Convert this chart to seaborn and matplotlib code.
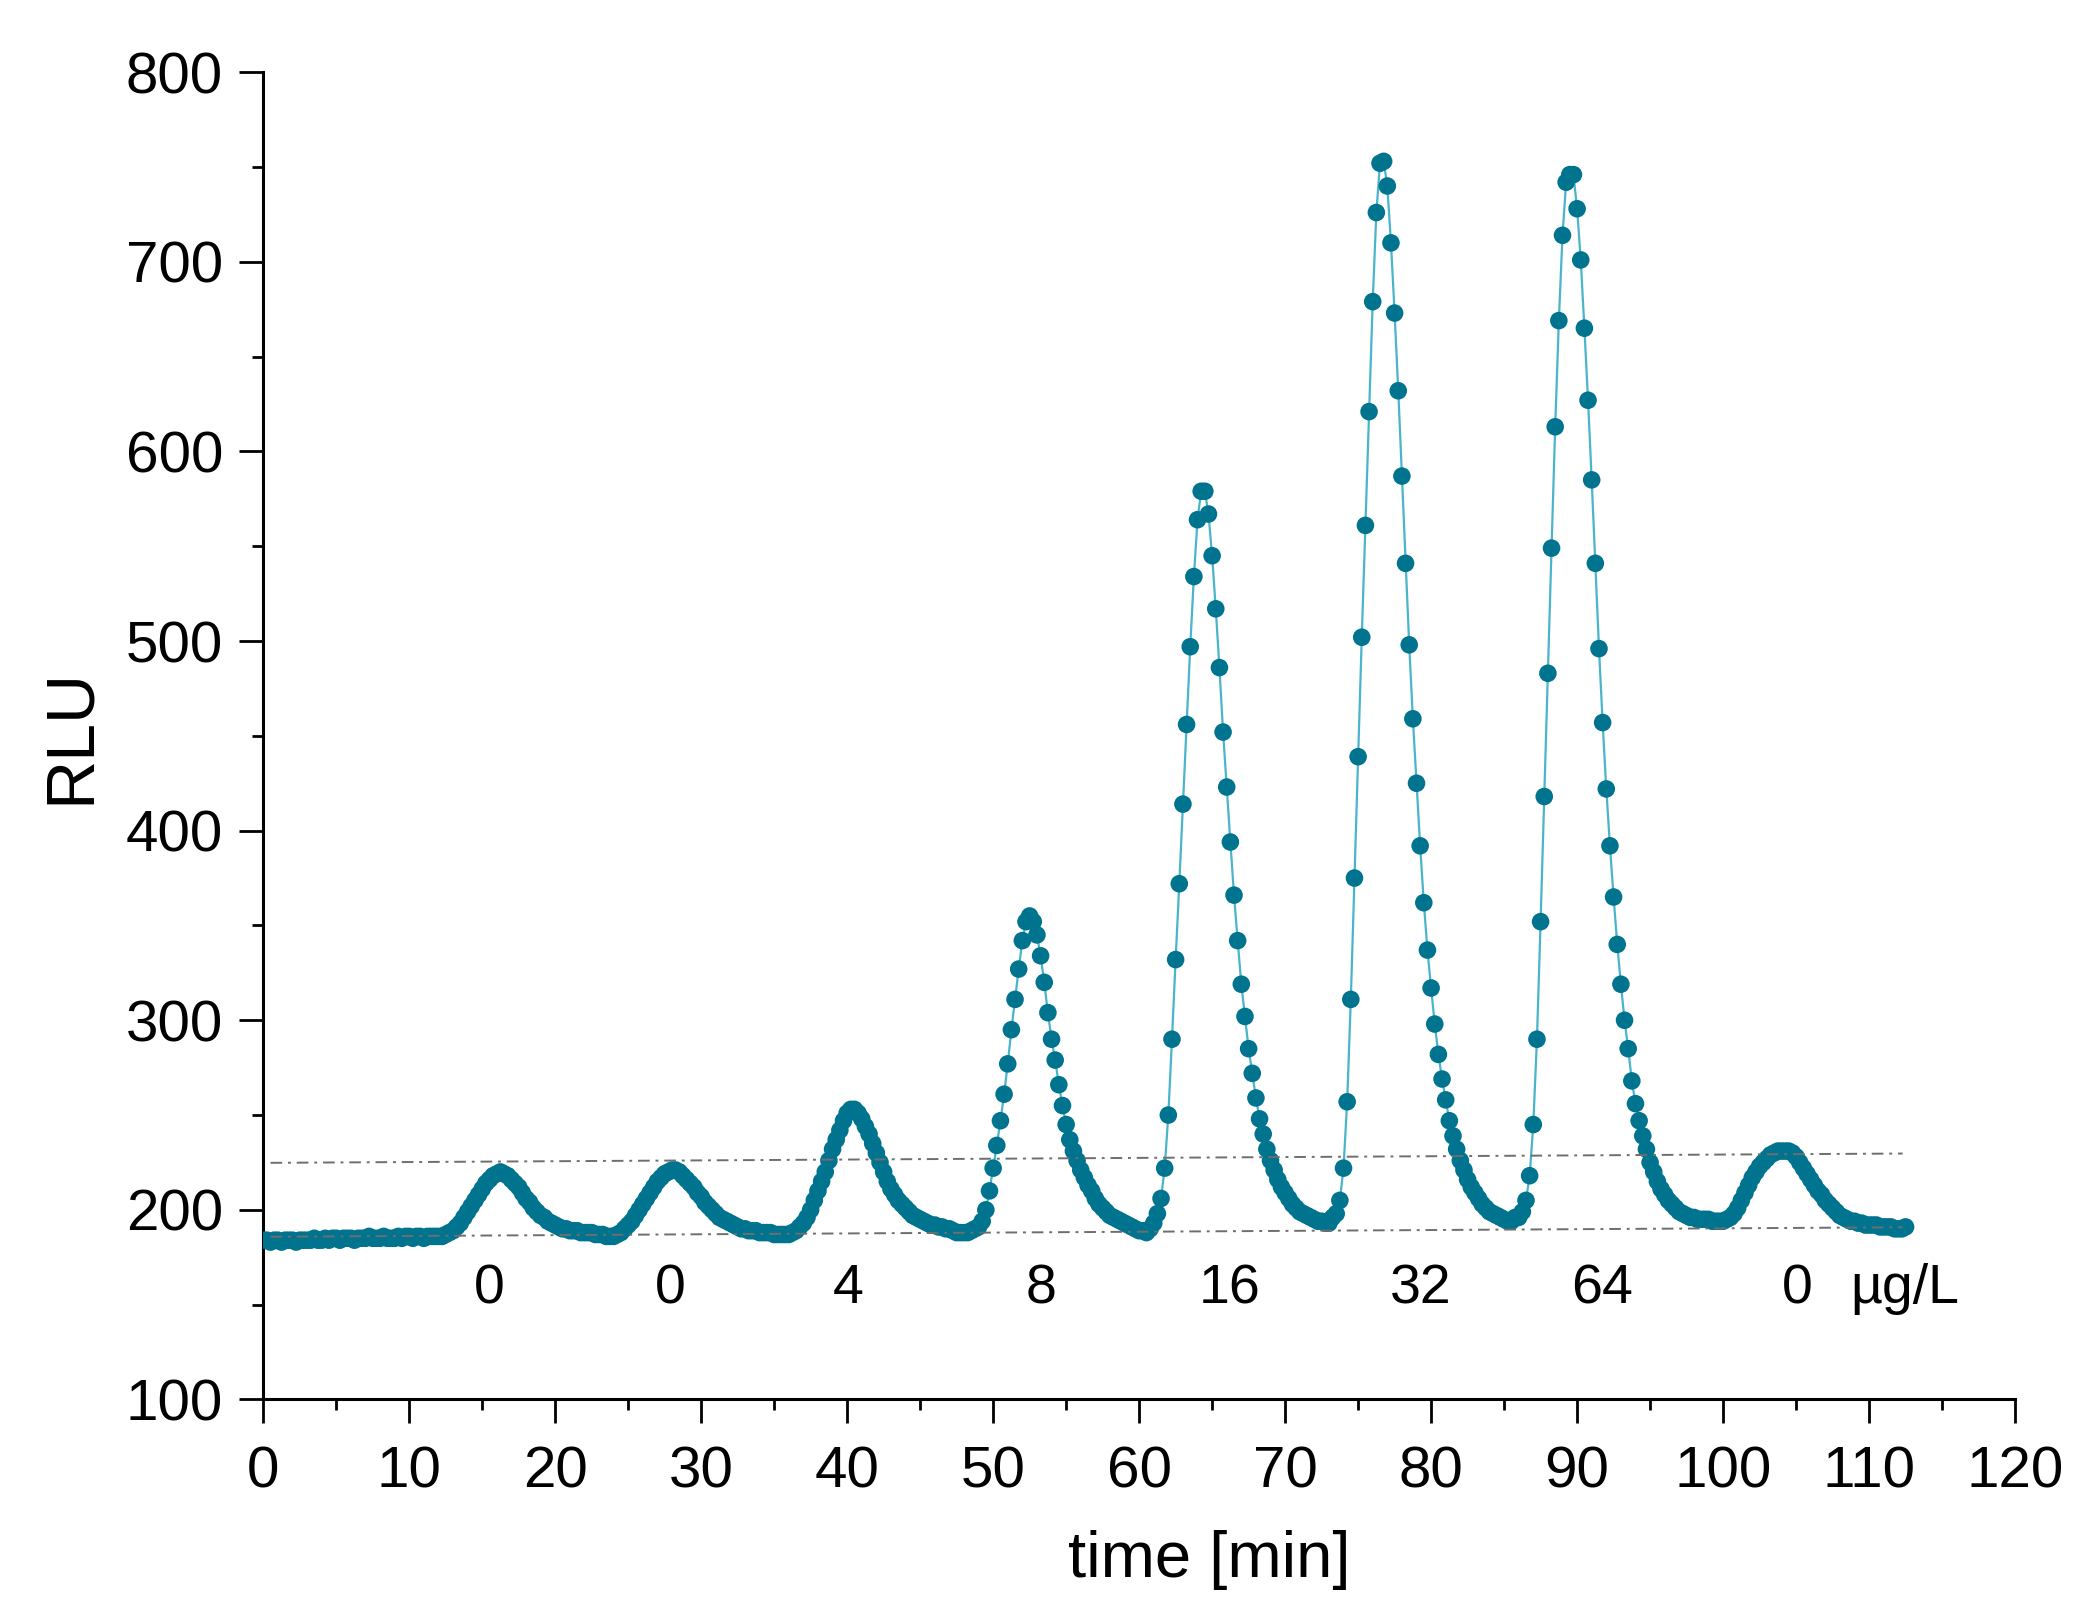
import numpy as np
import pandas as pd
import matplotlib.pyplot as plt
import seaborn as sns

# sampling interval of the luminometer [min]
step = 0.25

# RLU readings, one list per stretch of the run, with its start time [min]
base_start = 0.0
rlu_base = [184, 184, 183, 184, 184, 183, 184, 184, 184, 183, 184, 184,
            184, 184, 185, 184, 184, 185, 184, 185, 185, 184, 185, 185,
            185, 184, 185, 185, 185, 186, 185, 185, 185, 186, 185, 185,
            185, 186, 185, 186, 186, 185, 186, 186, 185, 186, 186, 186,
            186, 186, 187, 188]

p1_start = 13.0
rlu_p1 = [189, 191, 193, 196, 199, 202, 205, 208, 211, 214, 216, 218,
          219, 220, 219, 218, 216, 214, 212, 209, 206, 204, 201, 199,
          197, 196, 194, 193, 192, 191, 190, 190, 189, 189, 189, 188,
          188, 188, 188, 187, 187, 187, 186, 186, 186, 187, 188, 190]

p2_start = 25.0
rlu_p2 = [192, 194, 197, 200, 203, 206, 209, 212, 215, 217, 219, 220,
          221, 221, 220, 218, 216, 214, 212, 209, 207, 204, 202, 200,
          198, 196, 195, 194, 193, 192, 191, 190, 190, 189, 189, 189,
          188, 188, 188, 188, 187, 187, 187, 187, 187, 188, 189, 191]

p3_start = 37.0
rlu_p3 = [193, 196, 200, 205, 210, 215, 220, 226, 232, 237, 242, 247,
          251, 253, 253, 251, 248, 244, 240, 235, 230, 225, 220, 215,
          211, 208, 205, 203, 201, 199, 197, 196, 195, 194, 193, 192,
          192, 191, 191, 190, 190, 189, 188, 188, 188, 188, 189, 190]

p4_start = 49.0
rlu_p4 = [191, 194, 200, 210, 222, 234, 247, 261, 277, 295, 311, 327,
          342, 352, 355, 352, 345, 334, 320, 304, 290, 279, 266, 255,
          245, 237, 231, 226, 221, 217, 213, 210, 206, 203, 201, 199,
          197, 196, 195, 194, 193, 192, 191, 190, 189, 189, 188, 190]

p5_start = 61.0
rlu_p5 = [193, 198, 206, 222, 250, 290, 332, 372, 414, 456, 497, 534,
          564, 579, 579, 567, 545, 517, 486, 452, 423, 394, 366, 342,
          319, 302, 285, 272, 259, 248, 240, 232, 226, 221, 216, 212,
          209, 206, 203, 201, 199, 198, 197, 196, 195, 194, 194, 193,
          193, 196]

p6_start = 73.5
rlu_p6 = [198, 205, 222, 257, 311, 375, 439, 502, 561, 621, 679, 726,
          752, 753, 740, 710, 673, 632, 587, 541, 498, 459, 425, 392,
          362, 337, 317, 298, 282, 269, 258, 247, 239, 232, 226, 221,
          216, 212, 209, 206, 203, 201, 199, 198, 197, 196, 195, 194,
          194, 196]

p7_start = 86.0
rlu_p7 = [196, 199, 205, 218, 245, 290, 352, 418, 483, 549, 613, 669,
          714, 742, 746, 746, 728, 701, 665, 627, 585, 541, 496, 457,
          422, 392, 365, 340, 319, 300, 285, 268, 256, 247, 239, 232,
          225, 220, 215, 211, 208, 205, 203, 201, 199, 198, 197, 196,
          196, 195, 195, 195, 195, 194, 194, 194]

p8_start = 100.0
rlu_p8 = [194, 195, 196, 198, 201, 205, 209, 213, 217, 220, 223, 225,
          227, 229, 230, 231, 231, 231, 231, 230, 228, 225, 222, 219,
          216, 213, 210, 208, 205, 203, 201, 199, 197, 196, 195, 194,
          194, 193, 193, 192, 192, 192, 192, 191, 191, 191, 191, 190,
          190, 190, 191]

# guide lines (dash-dot), start/end points
guide_t = [0.5, 112.3]
upper_rlu = [224.8, 229.7]
lower_rlu = [185.8, 190.8]

# concentration labels under the peaks
conc_labels = ['0', '0', '4', '8', '16', '32', '64', '0']
conc_t = [15.5, 27.85, 40.05, 53.3, 66.2, 79.3, 91.7, 105.1]
label_rlu = 158

segments = [(base_start, rlu_base), (p1_start, rlu_p1), (p2_start, rlu_p2),
            (p3_start, rlu_p3), (p4_start, rlu_p4), (p5_start, rlu_p5),
            (p6_start, rlu_p6), (p7_start, rlu_p7), (p8_start, rlu_p8)]
frames = []
for start, vals in segments:
    t = start + step * np.arange(len(vals))
    frames.append(pd.DataFrame({'time': t, 'RLU': vals}))
df = pd.concat(frames, ignore_index=True)

sns.set_style('ticks')
plt.rcParams['font.family'] = ['Liberation Sans', 'DejaVu Sans']
plt.rcParams['text.color'] = 'black'
plt.rcParams['axes.labelcolor'] = 'black'
plt.rcParams['xtick.color'] = 'black'
plt.rcParams['ytick.color'] = 'black'

dot_color = '#00738f'
line_color = '#4ab4cc'

fig = plt.figure(figsize=(20.89, 16.16), dpi=100)
ax = fig.add_axes([0.126, 0.134, 0.8386, 0.8213])

sns.lineplot(data=df, x='time', y='RLU', ax=ax, color=line_color,
             linewidth=1.6, zorder=2)
sns.scatterplot(data=df, x='time', y='RLU', ax=ax, color=dot_color,
                s=160, edgecolor='none', zorder=3)

for vals in (upper_rlu, lower_rlu):
    ax.plot(guide_t, vals, color='#6e6e6e', linewidth=1.4,
            linestyle=(0, (6, 3, 1.5, 3)), zorder=4)

for lab, t in zip(conc_labels, conc_t):
    ax.text(t, label_rlu, lab, ha='center', va='center', fontsize=40,
            color='black')
ax.text(108.7, label_rlu, 'µg/L', ha='left', va='center', fontsize=40,
        color='black')

ax.set_xlim(0, 120)
ax.set_ylim(100, 800)
ax.set_xticks(range(0, 121, 10))
ax.set_yticks(range(100, 801, 100))
ax.set_xticks(range(0, 121, 5), minor=True)
ax.set_yticks(range(100, 801, 50), minor=True)
ax.tick_params(which='major', direction='out', length=17, width=2,
               labelsize=42, pad=12, color='black', labelcolor='black')
ax.tick_params(axis='x', which='major', pad=16)
ax.tick_params(which='minor', direction='out', length=8, width=2,
               color='black')
for side in ['left', 'bottom']:
    ax.spines[side].set_linewidth(2.2)
    ax.spines[side].set_color('black')
sns.despine(ax=ax)

ax.set_xlabel('time [min]', fontsize=47, labelpad=22, x=0.54)
ax.set_ylabel('RLU', fontsize=49, labelpad=16)

fig.savefig('out.png', dpi=100)
